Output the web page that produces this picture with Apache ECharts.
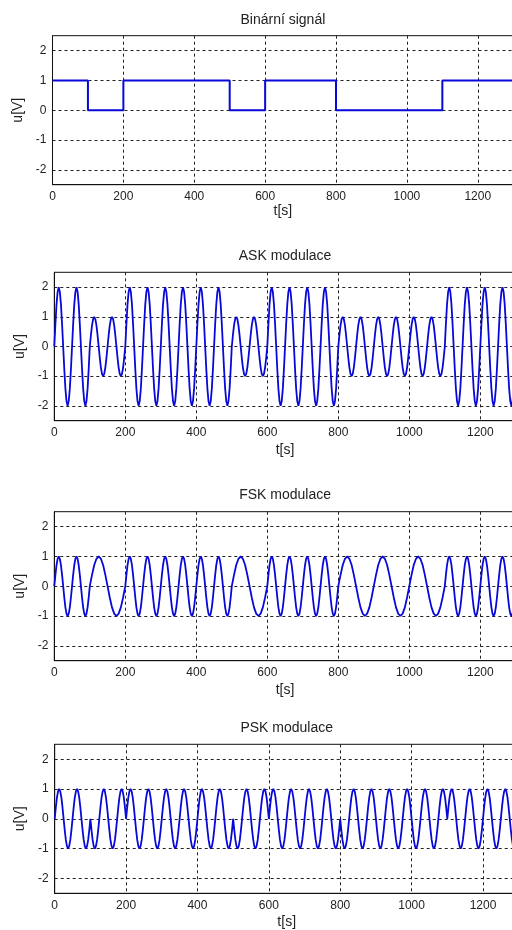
<!DOCTYPE html>
<html>
<head>
<meta charset="utf-8">
<script src="https://cdn.jsdelivr.net/npm/echarts@6/dist/echarts.min.js"></script>
<style>
html,body{margin:0;padding:0;background:#fff;}
#chart{width:512px;height:930px;}
</style>
</head>
<body>
<div id="chart"></div>
<script>
// ---- data ----
const titles = ['Binární signál', 'ASK modulace', 'FSK modulace', 'PSK modulace'];
const xTicks = [0, 200, 400, 600, 800, 1000, 1200];
const yTicks = [-2, -1, 0, 1, 2];
const bitDuration = 100;                      // s per bit
const bits = [1, 0, 1, 1, 1, 0, 1, 1, 0, 0, 0, 1, 1];
// one carrier cycle, sampled every 1/16 of its period
const carrierShape = [0, 0.38, 0.71, 0.92, 1, 0.92, 0.71, 0.38, 0, -0.38, -0.71, -0.92, -1, -0.92, -0.71, -0.38];
const askAmplitude = [1, 2];   // amplitude for bit 0 / bit 1
const askCycles = [2, 2];      // carrier cycles per bit
const fskAmplitude = [1, 1];
const fskCycles = [1, 2];
const pskAmplitude = [-1, 1];  // sign flip = 180° phase shift
const pskCycles = [2, 2];

// ---- build series ----
function binarySeries() {
  const d = bits.map((b, i) => [i * bitDuration, b]);
  d.push([bits.length * bitDuration, bits[bits.length - 1]]);
  return d;
}
function modulated(amp, cyc) {
  const d = [];
  const n = carrierShape.length;
  bits.forEach((b, i) => {
    const steps = n * cyc[b];
    for (let k = 0; k < steps; k++) {
      d.push([i * bitDuration + k * bitDuration / steps, amp[b] * carrierShape[k % n]]);
    }
  });
  d.push([bits.length * bitDuration, 0]);
  return d;
}
const seriesData = [
  binarySeries(),
  modulated(askAmplitude, askCycles),
  modulated(fskAmplitude, fskCycles),
  modulated(pskAmplitude, pskCycles)
];

// ---- layout ----
const panels = [
  {left: 52.5, top: 35.7, height: 149, scale: 0.3544, titleY: 20, nameGap: 19, width: 2},
  {left: 54.3, top: 272.3, height: 148.4, scale: 0.355, titleY: 256, nameGap: 22, width: 1.8},
  {left: 54.3, top: 511.7, height: 149, scale: 0.355, titleY: 495, nameGap: 22, width: 1.8},
  {left: 54.7, top: 744.3, height: 149, scale: 0.3569, titleY: 728, nameGap: 22, width: 1.8}
];
const xMax = 1300;
const font = '"Liberation Sans", Arial, sans-serif';
const gridLine = {show: true, lineStyle: {color: '#222', type: [3, 3], width: 1}};

const option = {
  animation: false,
  backgroundColor: '#fff',
  title: panels.map((p, i) => ({
    text: titles[i], left: p.left + xMax * p.scale / 2, top: p.titleY - 7, textAlign: 'center', padding: 0,
    textStyle: {fontFamily: font, fontSize: 14, fontWeight: 'normal', color: '#222'}
  })),
  grid: panels.map(p => ({
    left: p.left, top: p.top, width: xMax * p.scale, height: p.height,
    outerBoundsMode: 'none',
    show: true, borderColor: '#111', borderWidth: 1, backgroundColor: '#fff', containLabel: false
  })),
  xAxis: panels.map((p, i) => ({
    type: 'value', gridIndex: i, min: 0, max: xMax, interval: 100,
    name: 't[s]', nameLocation: 'middle', nameGap: p.nameGap,
    nameTextStyle: {fontFamily: font, fontSize: 14, color: '#222', verticalAlign: 'top'},
    axisLine: {show: true, onZero: false, lineStyle: {color: '#111', width: 1}},
    axisTick: {show: false, customValues: xTicks},
    axisLabel: {fontFamily: font, fontSize: 12, color: '#222', margin: 6, customValues: xTicks,
      formatter: v => String(v)},
    splitLine: gridLine
  })),
  yAxis: panels.map((p, i) => ({
    type: 'value', gridIndex: i, min: -2.5, max: 2.5, interval: 0.5,
    name: 'u[V]', nameLocation: 'middle', nameGap: 20, nameRotate: 90,
    nameTextStyle: {fontFamily: font, fontSize: 14, color: '#222'},
    axisLine: {show: true, onZero: false, lineStyle: {color: '#111', width: 1}},
    axisTick: {show: false, customValues: yTicks},
    axisLabel: {fontFamily: font, fontSize: 12, color: '#222', margin: 6, customValues: yTicks,
      formatter: v => String(v)},
    splitLine: gridLine
  })),
  series: seriesData.map((d, i) => ({
    type: 'line', xAxisIndex: i, yAxisIndex: i, data: d,
    step: i === 0 ? 'end' : false,
    showSymbol: false, smooth: false, clip: true,
    lineStyle: {color: '#0808d8', width: panels[i].width},
    emphasis: {disabled: true}
  }))
};
const chart = echarts.init(document.getElementById('chart'), null, {renderer: 'canvas'});
chart.setOption(option);
</script>
</body>
</html>
